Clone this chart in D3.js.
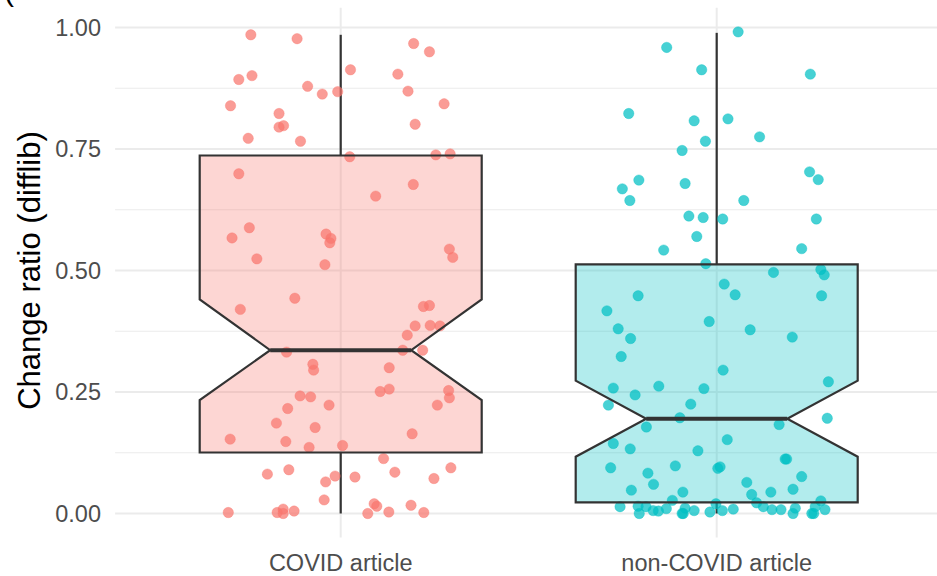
<!DOCTYPE html>
<html><head><meta charset="utf-8">
<script src="https://cdn.jsdelivr.net/npm/d3@7"></script>
<style>html,body{margin:0;padding:0;background:#fff;}svg{display:block;font-family:"Liberation Sans",Arial,sans-serif;}</style>
</head><body>
<svg id="chart" width="937" height="576"></svg>
<script>
// ---- data ----
const categories = ["COVID article", "non-COVID article"];
const colors = ["#F8766D", "#00BFC4"];
const yTicks = [0, 0.25, 0.5, 0.75, 1.0];
const yTickLabels = ["0.00", "0.25", "0.50", "0.75", "1.00"];
const yMinor = [0.125, 0.375, 0.625, 0.875];
// box statistics
const covidLowWhisker = 0.0, covidQ1 = 0.1255, covidMedian = 0.336, covidQ3 = 0.7366, covidHighWhisker = 0.985;
const covidNotchLow = 0.2335, covidNotchHigh = 0.4407;
const nonLowWhisker = 0.0, nonQ1 = 0.023, nonMedian = 0.195, nonQ3 = 0.5127, nonHighWhisker = 0.989;
const nonNotchLow = 0.1169, nonNotchHigh = 0.2733;
// jittered points: x offset (category units), value
const covidJitter = [-0.239,-0.116,0.194,0.236,0.026,0.152,-0.271,-0.236,-0.088,-0.049,-0.008,0.179,-0.293,-0.164,0.275,-0.164,-0.152,0.198,-0.246,-0.107,0.024,0.253,0.291,-0.271,0.193,0.093,-0.243,-0.289,-0.039,-0.026,-0.029,-0.223,-0.042,0.289,0.298,-0.122,-0.267,0.220,0.236,0.198,0.238,0.264,0.177,-0.144,0.165,0.218,-0.074,-0.072,0.129,-0.108,-0.080,0.105,0.129,0.287,0.289,-0.141,-0.031,0.257,-0.171,-0.068,-0.294,-0.146,-0.084,0.005,0.190,0.114,-0.195,-0.138,-0.015,-0.040,0.038,0.144,0.248,0.293,-0.044,-0.299,-0.169,-0.153,-0.153,-0.124,0.072,0.089,0.096,0.128,0.187,0.221];
const covidValues = [0.985,0.977,0.967,0.950,0.913,0.904,0.893,0.901,0.879,0.863,0.868,0.869,0.839,0.823,0.843,0.795,0.798,0.801,0.772,0.766,0.734,0.738,0.740,0.699,0.677,0.653,0.588,0.567,0.575,0.566,0.557,0.524,0.512,0.544,0.527,0.443,0.420,0.426,0.428,0.386,0.387,0.386,0.367,0.332,0.336,0.336,0.307,0.295,0.300,0.242,0.240,0.251,0.256,0.253,0.238,0.216,0.223,0.223,0.186,0.177,0.153,0.148,0.136,0.140,0.164,0.113,0.081,0.090,0.077,0.065,0.075,0.085,0.072,0.094,0.028,0.002,0.002,0.009,0.000,0.005,0.000,0.020,0.015,0.003,0.017,0.002];
const nonJitter = [0.057,-0.133,-0.040,0.249,-0.234,-0.060,0.030,0.114,-0.030,-0.092,-0.207,-0.251,-0.231,-0.084,0.247,0.270,0.072,-0.074,-0.036,0.016,0.265,-0.053,-0.141,0.226,-0.029,0.151,0.277,0.286,0.020,0.049,-0.209,0.279,-0.292,-0.020,-0.262,-0.229,0.089,0.201,-0.254,0.017,0.297,-0.275,-0.217,-0.154,-0.034,-0.288,-0.069,-0.098,0.294,-0.187,0.166,0.028,-0.275,-0.230,-0.050,0.182,0.186,-0.282,-0.110,0.003,0.009,-0.183,-0.168,0.080,0.226,-0.227,-0.090,0.144,0.203,0.093,0.106,-0.118,-0.002,0.277,-0.257,-0.209,-0.188,-0.206,-0.169,-0.155,-0.134,-0.084,-0.089,-0.060,-0.092,-0.018,0.015,0.044,0.124,0.147,0.171,0.203,0.209,0.253,0.262,0.258,0.288];
const nonValues = [0.991,0.959,0.913,0.904,0.823,0.808,0.812,0.775,0.766,0.747,0.686,0.668,0.644,0.679,0.703,0.687,0.644,0.612,0.609,0.606,0.606,0.570,0.542,0.545,0.514,0.496,0.502,0.491,0.472,0.450,0.448,0.448,0.417,0.395,0.380,0.360,0.378,0.363,0.323,0.295,0.271,0.258,0.244,0.262,0.257,0.223,0.225,0.197,0.196,0.178,0.183,0.152,0.144,0.133,0.129,0.112,0.112,0.094,0.098,0.093,0.096,0.083,0.060,0.064,0.076,0.048,0.044,0.044,0.050,0.039,0.022,0.027,0.020,0.026,0.014,0.015,0.014,0.000,0.006,0.005,0.010,0.011,0.000,0.006,0.000,0.003,0.006,0.009,0.014,0.008,0.008,0.000,0.011,0.000,0.014,0.000,0.008];

// ---- build ----
const boxes = [
  {cat: categories[0], color: colors[0], lw: covidLowWhisker, nl: covidNotchLow, q1: covidQ1, med: covidMedian, q3: covidQ3, nh: covidNotchHigh, hw: covidHighWhisker},
  {cat: categories[1], color: colors[1], lw: nonLowWhisker, nl: nonNotchLow, q1: nonQ1, med: nonMedian, q3: nonQ3, nh: nonNotchHigh, hw: nonHighWhisker}
];
const points = [];
covidValues.forEach((v, i) => points.push({g: 0, j: covidJitter[i], v}));
nonValues.forEach((v, i) => points.push({g: 1, j: nonJitter[i], v}));

const svg = d3.select("#chart");
const x = d3.scaleLinear().domain([0.4, 2.6]).range([115.1, 942.3]);
const y = d3.scaleLinear().domain([0, 1]).range([513.5, 27.5]);
const panelTop = y(1.0405), panelBottom = y(-0.0495);
const panelLeft = x(0.4), panelRight = x(2.6);

// gridlines
svg.append("g").selectAll("line").data(yMinor).join("line")
  .attr("x1", panelLeft).attr("x2", panelRight)
  .attr("y1", d => y(d)).attr("y2", d => y(d))
  .attr("stroke", "#ebebeb").attr("stroke-width", 1.1);
svg.append("g").selectAll("line").data(yTicks).join("line")
  .attr("x1", panelLeft).attr("x2", panelRight)
  .attr("y1", d => y(d)).attr("y2", d => y(d))
  .attr("stroke", "#ebebeb").attr("stroke-width", 2);
svg.append("g").selectAll("line").data(categories).join("line")
  .attr("x1", (d, i) => x(i + 1)).attr("x2", (d, i) => x(i + 1))
  .attr("y1", panelTop).attr("y2", panelBottom)
  .attr("stroke", "#ebebeb").attr("stroke-width", 2);

const hw = 0.375, notchW = 0.5;
function boxPath(b, i) {
  const c = i + 1;
  const L = x(c - hw), R = x(c + hw);
  const nL = x(c - hw * notchW), nR = x(c + hw * notchW);
  return d3.line()([
    [L, y(b.q3)], [R, y(b.q3)], [R, y(b.nh)], [nR, y(b.med)], [R, y(b.nl)], [R, y(b.q1)],
    [L, y(b.q1)], [L, y(b.nl)], [nL, y(b.med)], [L, y(b.nh)]
  ]) + "Z";
}

// box fill
svg.append("g").selectAll("path").data(boxes).join("path")
  .attr("d", boxPath).attr("fill", d => d.color).attr("fill-opacity", 0.3).attr("stroke", "none");

// whiskers
const wg = svg.append("g").attr("stroke", "#333333").attr("stroke-width", 2.2);
boxes.forEach((b, i) => {
  wg.append("line").attr("x1", x(i + 1)).attr("x2", x(i + 1)).attr("y1", y(b.q3)).attr("y2", y(b.hw));
  wg.append("line").attr("x1", x(i + 1)).attr("x2", x(i + 1)).attr("y1", y(b.q1)).attr("y2", y(b.lw));
});

// points
svg.append("g").selectAll("circle").data(points).join("circle")
  .attr("cx", d => x(d.g + 1 + d.j)).attr("cy", d => y(d.v)).attr("r", 5.2)
  .attr("fill", d => colors[d.g]).attr("fill-opacity", 0.72)
  .attr("stroke", d => colors[d.g]).attr("stroke-opacity", 0.35).attr("stroke-width", 1);

// box outline + median
svg.append("g").selectAll("path").data(boxes).join("path")
  .attr("d", boxPath).attr("fill", "none").attr("stroke", "#333333").attr("stroke-width", 2.2).attr("stroke-linejoin", "miter");
svg.append("g").selectAll("line").data(boxes).join("line")
  .attr("x1", (d, i) => x(i + 1 - hw * notchW)).attr("x2", (d, i) => x(i + 1 + hw * notchW))
  .attr("y1", d => y(d.med)).attr("y2", d => y(d.med))
  .attr("stroke", "#333333").attr("stroke-width", 4);

// y axis labels
svg.append("g").selectAll("text").data(yTicks).join("text")
  .attr("x", 101).attr("y", d => y(d)).attr("dy", "0.36em")
  .attr("text-anchor", "end").attr("font-size", 23.5).attr("fill", "#4d4d4d")
  .text((d, i) => yTickLabels[i]);
// x axis labels
svg.append("g").selectAll("text").data(categories).join("text")
  .attr("x", (d, i) => x(i + 1)).attr("y", 571)
  .attr("text-anchor", "middle").attr("font-size", 23.5).attr("fill", "#4d4d4d")
  .text(d => d);
// y title
svg.append("text").attr("transform", `translate(40,${y(0.5)}) rotate(-90)`)
  .attr("text-anchor", "middle").attr("font-size", 31).attr("fill", "#000")
  .text("Change ratio (difflib)");
// partial tag at top-left (cut off in the reference too)
svg.append("text").attr("x", 4).attr("y", 1).attr("font-size", 30).attr("fill", "#000").text("(");
</script>
</body></html>
